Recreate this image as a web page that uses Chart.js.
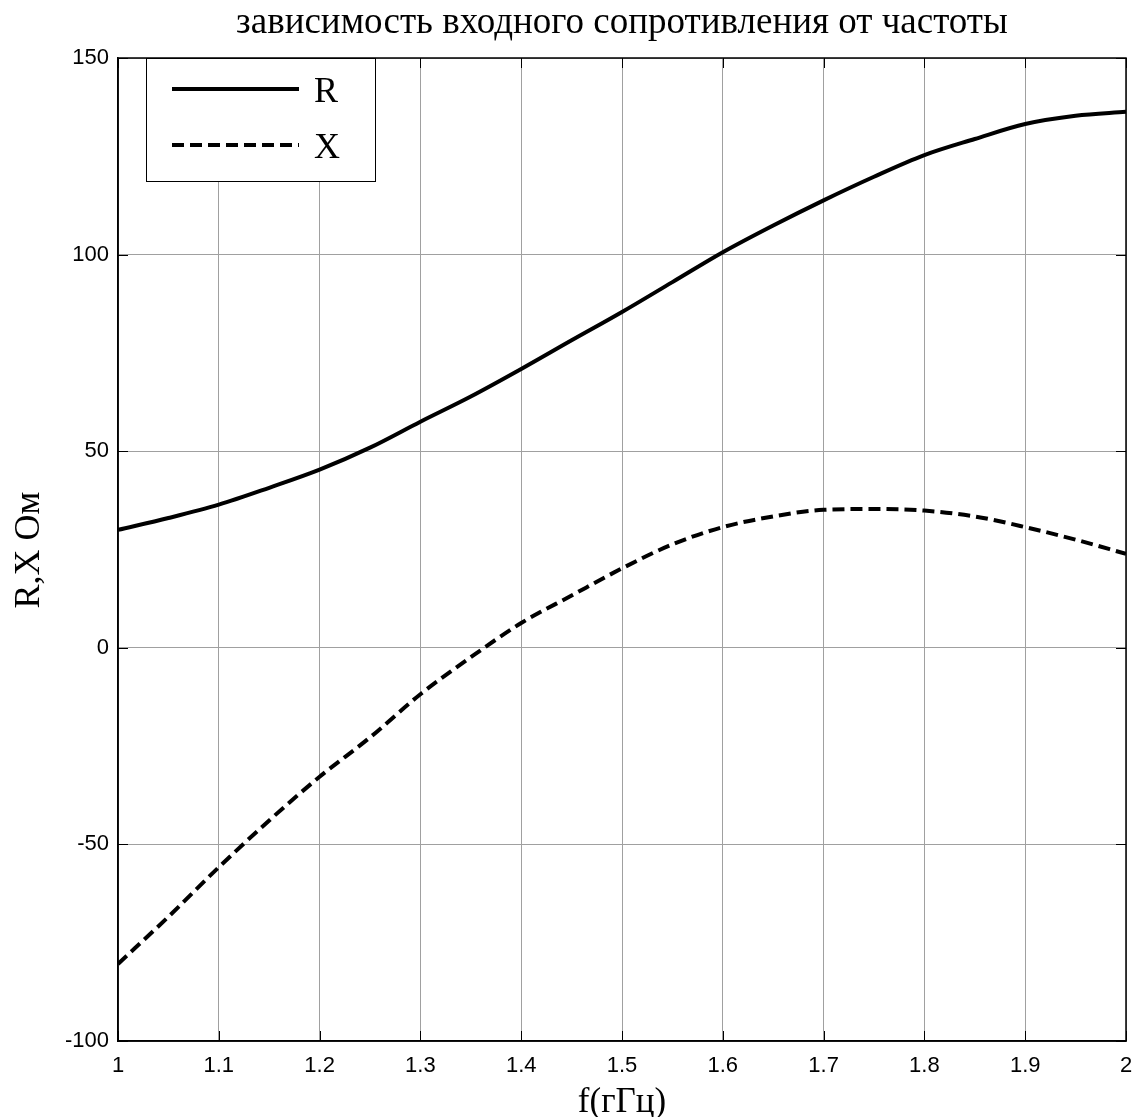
<!DOCTYPE html>
<html>
<head>
<meta charset="utf-8">
<script src="https://cdn.jsdelivr.net/npm/chart.js@4.4.1/dist/chart.umd.min.js"></script>
<style>
  html, body { margin: 0; padding: 0; background: #ffffff; }
  #wrap { width: 1135px; height: 1117px; }
</style>
</head>
<body>
<div id="wrap"><canvas id="c" width="1135" height="1117"></canvas></div>
<script>
// ---- data ----
const freq = [1.00, 1.05, 1.10, 1.15, 1.20, 1.25, 1.30, 1.35, 1.40, 1.45, 1.50,
              1.55, 1.60, 1.65, 1.70, 1.75, 1.80, 1.85, 1.90, 1.95, 2.00];
const seriesR = [30.0, 33.0, 36.4, 40.7, 45.3, 50.9, 57.5, 63.9, 70.9, 78.2, 85.4,
                 93.0, 100.6, 107.4, 113.8, 119.8, 125.3, 129.4, 133.2, 135.3, 136.3];
const seriesX = [-80.4, -68.4, -55.8, -43.9, -32.8, -22.8, -11.8, -2.4, 6.3, 13.3, 20.2,
                 26.3, 30.7, 33.4, 35.1, 35.3, 34.9, 33.4, 30.7, 27.5, 23.9];
const seriesNames = ['R', 'X'];
const xTickLabels = ['1', '1.1', '1.2', '1.3', '1.4', '1.5', '1.6', '1.7', '1.8', '1.9', '2'];
const yTickLabels = ['-100', '-50', '0', '50', '100', '150'];
const titleText = 'зависимость входного сопротивления от частоты';
const xAxisTitle = 'f(гГц)';
const yAxisTitle = 'R,X Ом';

const SERIF = '"Liberation Serif", "Times New Roman", serif';
const SANS = '"Liberation Sans", Arial, sans-serif';

function toPoints(xs, ys) { return xs.map((x, i) => ({ x: x, y: ys[i] })); }

// Draws the boxed axes, inward ticks, titles and the MATLAB-style legend
const decorPlugin = {
  id: 'decor',
  afterDraw(chart) {
    const ctx = chart.ctx;
    const a = chart.chartArea;
    const xs = chart.scales.x, ys = chart.scales.y;
    ctx.save();
    // inward tick marks on all four sides
    ctx.strokeStyle = '#000';
    ctx.lineWidth = 1;
    const tl = 10;
    xs.ticks.forEach(t => {
      const px = Math.round(xs.getPixelForValue(t.value)) + 0.5;
      ctx.beginPath();
      ctx.moveTo(px, a.bottom); ctx.lineTo(px, a.bottom - tl);
      ctx.moveTo(px, a.top); ctx.lineTo(px, a.top + tl);
      ctx.stroke();
    });
    ys.ticks.forEach(t => {
      const py = Math.round(ys.getPixelForValue(t.value)) + 0.5;
      ctx.beginPath();
      ctx.moveTo(a.left, py); ctx.lineTo(a.left + tl, py);
      ctx.moveTo(a.right, py); ctx.lineTo(a.right - tl, py);
      ctx.stroke();
    });
    // axes box
    ctx.lineWidth = 1.5;
    ctx.strokeRect(a.left, a.top, a.right - a.left, a.bottom - a.top);

    // title
    ctx.fillStyle = '#000';
    ctx.textAlign = 'center';
    ctx.textBaseline = 'alphabetic';
    ctx.font = '37px ' + SERIF;
    ctx.fillText(titleText, (a.left + a.right) / 2, 33);
    // x axis title
    ctx.font = '35px ' + SERIF;
    ctx.fillText(xAxisTitle, (a.left + a.right) / 2, 1112);
    // y axis title
    ctx.save();
    ctx.translate(39, 550);
    ctx.rotate(-Math.PI / 2);
    ctx.font = '36px ' + SERIF;
    ctx.fillText(yAxisTitle, 0, 0);
    ctx.restore();

    // legend box
    const lx = 146, ly = a.top, lw = 229, lh = 123;
    ctx.fillStyle = '#fff';
    ctx.fillRect(lx, ly, lw, lh);
    ctx.strokeStyle = '#000';
    ctx.lineWidth = 1;
    ctx.strokeRect(lx + 0.5, ly + 0.5, lw, lh);
    const rows = [89, 145];
    chart.data.datasets.forEach((ds, i) => {
      ctx.beginPath();
      ctx.lineWidth = ds.borderWidth;
      ctx.strokeStyle = ds.borderColor;
      ctx.setLineDash(ds.borderDash || []);
      ctx.moveTo(172, rows[i]);
      ctx.lineTo(299, rows[i]);
      ctx.stroke();
      ctx.setLineDash([]);
      ctx.fillStyle = '#000';
      ctx.textAlign = 'left';
      ctx.font = '36px ' + SERIF;
      ctx.fillText(ds.label, 314, rows[i] + 13);
    });
    ctx.restore();
  }
};

new Chart(document.getElementById('c'), {
  type: 'line',
  data: {
    datasets: [
      {
        label: seriesNames[0],
        data: toPoints(freq, seriesR),
        borderColor: '#000',
        borderWidth: 4,
        pointRadius: 0,
        fill: false,
        cubicInterpolationMode: 'monotone'
      },
      {
        label: seriesNames[1],
        data: toPoints(freq, seriesX),
        borderColor: '#000',
        borderWidth: 4,
        borderDash: [12, 6],
        pointRadius: 0,
        fill: false,
        cubicInterpolationMode: 'monotone'
      }
    ]
  },
  options: {
    responsive: false,
    animation: false,
    devicePixelRatio: 1,
    layout: { padding: { top: 58, right: 9, left: 0, bottom: 0 } },
    plugins: {
      legend: { display: false },
      title: { display: false },
      tooltip: { enabled: false }
    },
    scales: {
      x: {
        type: 'linear',
        min: 1, max: 2,
        afterFit: s => { s.height = 76; s.paddingLeft = 0; s.paddingRight = 0; },
        afterBuildTicks: s => { s.ticks = xTickLabels.map(l => ({ value: parseFloat(l) })); },
        ticks: {
          callback: (v, i) => xTickLabels[i],
          font: { family: SANS, size: 22 },
          color: '#000',
          padding: 12,
          maxRotation: 0,
          autoSkip: false
        },
        grid: { color: '#a0a0a0', lineWidth: 1, drawTicks: false },
        border: { display: true, color: '#000', width: 1.5 }
      },
      y: {
        type: 'linear',
        min: -100, max: 150,
        afterFit: s => { s.width = 118; s.paddingTop = 0; s.paddingBottom = 0; },
        afterBuildTicks: s => { s.ticks = yTickLabels.map(l => ({ value: parseFloat(l) })); },
        ticks: {
          callback: (v, i) => yTickLabels[i],
          font: { family: SANS, size: 22 },
          color: '#000',
          padding: 9,
          autoSkip: false
        },
        grid: { color: '#a0a0a0', lineWidth: 1, drawTicks: false },
        border: { display: true, color: '#000', width: 1.5 }
      }
    }
  },
  plugins: [decorPlugin]
});
</script>
</body>
</html>
